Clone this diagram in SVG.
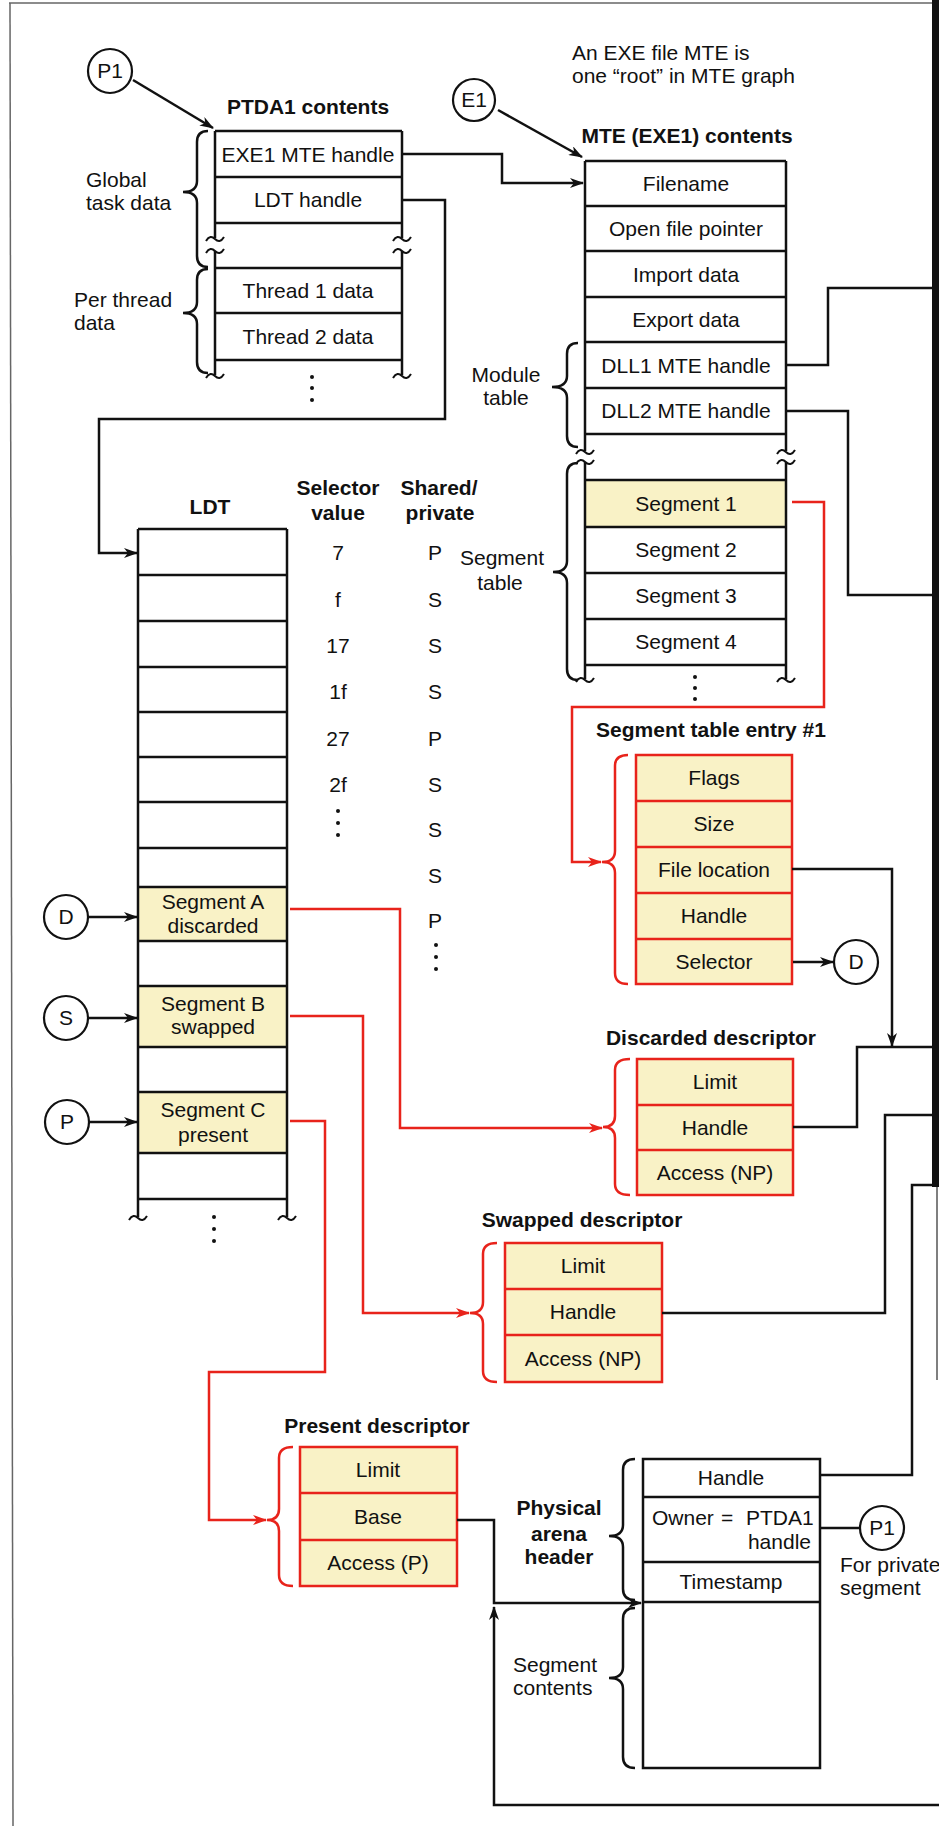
<svg xmlns="http://www.w3.org/2000/svg" xmlns:xlink="http://www.w3.org/1999/xlink" width="939" height="1826" viewBox="0 0 939 1826">
<style>
.t{font-family:"Liberation Sans",Arial,sans-serif;font-size:21px;fill:#111}
.b{font-weight:bold}
.c{text-anchor:middle}
.e{text-anchor:end}
.bx{fill:#fff;stroke:#111;stroke-width:2.5}
.yf{fill:#f9f2c6;stroke:none}
.rb{fill:#f9f2c6;stroke:#e8231b;stroke-width:2.5}
.ln{fill:none;stroke:#111;stroke-width:2.5}
.rl{fill:none;stroke:#e8231b;stroke-width:2.5}
.ci{fill:#fff;stroke:#111;stroke-width:2.2}
.dot{fill:#111}
</style>
<defs>
<marker id="ab" viewBox="0 0 14 10" refX="13" refY="5" markerWidth="14" markerHeight="10" markerUnits="userSpaceOnUse" orient="auto"><path d="M0,0 L14,5 L0,10 L4,5 z" fill="#111"/></marker>
<marker id="ar" viewBox="0 0 14 10" refX="13" refY="5" markerWidth="14" markerHeight="10" markerUnits="userSpaceOnUse" orient="auto"><path d="M0,0 L14,5 L0,10 L4,5 z" fill="#e8231b"/></marker>
<path id="tl" d="M-9,2 C-6,-3 -3,-3 0,0 C3,3 6,3 9,-2" fill="none" stroke="#111" stroke-width="2"/>
</defs>
<rect width="939" height="1826" fill="#fff"/>
<g id="frame">
<line x1="9" y1="3" x2="935" y2="3" stroke="#666" stroke-width="1.5"/>
<line x1="10" y1="3" x2="13" y2="1826" stroke="#666" stroke-width="1.5"/>
<line x1="935.5" y1="0" x2="935.5" y2="1187" stroke="#111" stroke-width="7"/>
<line x1="937" y1="1187" x2="937" y2="1380" stroke="#555" stroke-width="1.5"/>
</g>
<g id="note">
<text class="t" x="572" y="60">An EXE file MTE is</text>
<text class="t" x="572" y="83">one “root” in MTE graph</text>
</g>
<g id="ptda1">
<text class="t b c" x="308" y="114">PTDA1 contents</text>
<path class="ln" d="M215,131H402M215,177H402M215,223H402M215,268H402M215,313H402M215,360H402M215,131V238M402,131V238M215,251V375M402,251V375"/>
<use href="#tl" x="215" y="239"/><use href="#tl" x="215" y="251"/><use href="#tl" x="215" y="376"/>
<use href="#tl" x="402" y="239"/><use href="#tl" x="402" y="251"/><use href="#tl" x="402" y="376"/>
<text class="t c" x="308" y="162">EXE1 MTE handle</text>
<text class="t c" x="308" y="207">LDT handle</text>
<text class="t c" x="308" y="298">Thread 1 data</text>
<text class="t c" x="308" y="344">Thread 2 data</text>
<circle class="dot" cx="312" cy="377" r="2"/><circle class="dot" cx="312" cy="388" r="2"/><circle class="dot" cx="312" cy="400" r="2"/>
<path class="ln" d="M208,131 Q197,131 197,142 V181 Q197,192 183,192 Q197,192 197,203 V256 Q197,267 208,267"/>
<path class="ln" d="M208,269 Q197,269 197,280 V302 Q197,313 183,313 Q197,313 197,324 V362 Q197,373 208,373"/>
<text class="t" x="86" y="187">Global</text>
<text class="t" x="86" y="210">task data</text>
<text class="t" x="74" y="307">Per thread</text>
<text class="t" x="74" y="330">data</text>
</g>
<g id="mte">
<text class="t b c" x="687" y="143">MTE (EXE1) contents</text>
<rect class="yf" x="585" y="480" width="201" height="47"/>
<path class="ln" d="M585,161H786M585,206H786M585,251H786M585,297H786M585,342H786M585,388H786M585,434H786M585,480H786M585,527H786M585,573H786M585,619H786M585,665H786M585,161V451M786,161V451M585,462V679M786,462V679"/>
<use href="#tl" x="585" y="452"/><use href="#tl" x="585" y="462"/><use href="#tl" x="585" y="680"/>
<use href="#tl" x="786" y="452"/><use href="#tl" x="786" y="462"/><use href="#tl" x="786" y="680"/>
<text class="t c" x="686" y="191">Filename</text>
<text class="t c" x="686" y="236">Open file pointer</text>
<text class="t c" x="686" y="282">Import data</text>
<text class="t c" x="686" y="327">Export data</text>
<text class="t c" x="686" y="373">DLL1 MTE handle</text>
<text class="t c" x="686" y="418">DLL2 MTE handle</text>
<text class="t c" x="686" y="511">Segment 1</text>
<text class="t c" x="686" y="557">Segment 2</text>
<text class="t c" x="686" y="603">Segment 3</text>
<text class="t c" x="686" y="649">Segment 4</text>
<circle class="dot" cx="695" cy="677" r="2"/><circle class="dot" cx="695" cy="688" r="2"/><circle class="dot" cx="695" cy="699" r="2"/>
<path class="ln" d="M578,343 Q567,343 567,354 V376 Q567,387 552,387 Q567,387 567,398 V436 Q567,447 578,447"/>
<path class="ln" d="M578,463 Q567,463 567,474 V561 Q567,572 553,572 Q567,572 567,583 V669 Q567,680 578,680"/>
<text class="t c" x="506" y="382">Module</text>
<text class="t c" x="506" y="405">table</text>
<text class="t c" x="502" y="565">Segment</text>
<text class="t c" x="500" y="590">table</text>
</g>
<g id="ldt">
<text class="t b c" x="210" y="514">LDT</text>
<rect class="yf" x="138" y="887" width="149" height="54"/>
<rect class="yf" x="138" y="986" width="149" height="61"/>
<rect class="yf" x="138" y="1092" width="149" height="61"/>
<path class="ln" d="M138,529H287M138,575H287M138,621H287M138,667H287M138,712H287M138,757H287M138,802H287M138,848H287M138,887H287M138,941H287M138,986H287M138,1047H287M138,1092H287M138,1153H287M138,1199H287M138,529V1217M287,529V1217"/>
<use href="#tl" x="138" y="1218"/><use href="#tl" x="287" y="1218"/>
<text class="t c" x="213" y="909">Segment A</text>
<text class="t c" x="213" y="933">discarded</text>
<text class="t c" x="213" y="1011">Segment B</text>
<text class="t c" x="213" y="1034">swapped</text>
<text class="t c" x="213" y="1117">Segment C</text>
<text class="t c" x="213" y="1142">present</text>
<circle class="dot" cx="214" cy="1217" r="2"/><circle class="dot" cx="214" cy="1229" r="2"/><circle class="dot" cx="214" cy="1241" r="2"/>
</g>
<g id="selectors">
<text class="t b c" x="338" y="495">Selector</text>
<text class="t b c" x="338" y="520">value</text>
<text class="t b c" x="439" y="495">Shared/</text>
<text class="t b c" x="440" y="520">private</text>
<text class="t c" x="338" y="560">7</text>
<text class="t c" x="338" y="607">f</text>
<text class="t c" x="338" y="653">17</text>
<text class="t c" x="338" y="699">1f</text>
<text class="t c" x="338" y="746">27</text>
<text class="t c" x="338" y="792">2f</text>
<circle class="dot" cx="338" cy="811" r="2"/><circle class="dot" cx="338" cy="823" r="2"/><circle class="dot" cx="338" cy="835" r="2"/>
<text class="t c" x="435" y="560">P</text>
<text class="t c" x="435" y="607">S</text>
<text class="t c" x="435" y="653">S</text>
<text class="t c" x="435" y="699">S</text>
<text class="t c" x="435" y="746">P</text>
<text class="t c" x="435" y="792">S</text>
<text class="t c" x="435" y="837">S</text>
<text class="t c" x="435" y="883">S</text>
<text class="t c" x="435" y="928">P</text>
<circle class="dot" cx="436" cy="945" r="2"/><circle class="dot" cx="436" cy="957" r="2"/><circle class="dot" cx="436" cy="969" r="2"/>
</g>
<g id="segentry">
<text class="t b c" x="711" y="737">Segment table entry #1</text>
<path class="rl" d="M628,755 Q615,755 615,766 V851 Q615,862 602,862 Q615,862 615,873 V973 Q615,984 628,984"/>
<rect class="rb" x="636" y="755" width="156" height="229"/>
<path class="rl" d="M636,801H792M636,847H792M636,893H792M636,939H792"/>
<text class="t c" x="714" y="785">Flags</text>
<text class="t c" x="714" y="831">Size</text>
<text class="t c" x="714" y="877">File location</text>
<text class="t c" x="714" y="923">Handle</text>
<text class="t c" x="714" y="969">Selector</text>
</g>
<g id="discarded">
<text class="t b c" x="711" y="1045">Discarded descriptor</text>
<path class="rl" d="M630,1059 Q615,1059 615,1070 V1116 Q615,1127 603,1127 Q615,1127 615,1138 V1184 Q615,1195 630,1195"/>
<rect class="rb" x="637" y="1059" width="156" height="136"/>
<path class="rl" d="M637,1105H793M637,1150H793"/>
<text class="t c" x="715" y="1089">Limit</text>
<text class="t c" x="715" y="1135">Handle</text>
<text class="t c" x="715" y="1180">Access (NP)</text>
</g>
<g id="swapped">
<text class="t b c" x="582" y="1227">Swapped descriptor</text>
<path class="rl" d="M497,1243 Q483,1243 483,1254 V1302 Q483,1313 470,1313 Q483,1313 483,1324 V1371 Q483,1382 497,1382"/>
<rect class="rb" x="505" y="1243" width="157" height="139"/>
<path class="rl" d="M505,1289H662M505,1335H662"/>
<text class="t c" x="583" y="1273">Limit</text>
<text class="t c" x="583" y="1319">Handle</text>
<text class="t c" x="583" y="1366">Access (NP)</text>
</g>
<g id="present">
<text class="t b c" x="377" y="1433">Present descriptor</text>
<path class="rl" d="M293,1447 Q279,1447 279,1458 V1509 Q279,1520 267,1520 Q279,1520 279,1531 V1575 Q279,1586 293,1586"/>
<rect class="rb" x="300" y="1447" width="157" height="139"/>
<path class="rl" d="M300,1493H457M300,1540H457"/>
<text class="t c" x="378" y="1477">Limit</text>
<text class="t c" x="378" y="1524">Base</text>
<text class="t c" x="378" y="1570">Access (P)</text>
</g>
<g id="arena">
<rect class="bx" x="643" y="1459" width="177" height="309"/>
<path class="ln" d="M643,1497H820M643,1562H820M643,1602H820"/>
<text class="t c" x="731" y="1485">Handle</text>
<text class="t" y="1525"><tspan x="652">Owner</tspan><tspan x="721">=</tspan><tspan x="746">PTDA1</tspan></text>
<text class="t e" x="811" y="1549">handle</text>
<text class="t c" x="731" y="1589">Timestamp</text>
<path class="ln" d="M635,1459 Q623,1459 623,1470 V1525 Q623,1536 609,1536 Q623,1536 623,1547 V1589 Q623,1600 635,1600"/>
<path class="ln" d="M635,1608 Q623,1608 623,1619 V1667 Q623,1678 609,1678 Q623,1678 623,1689 V1757 Q623,1768 635,1768"/>
<text class="t b c" x="559" y="1515">Physical</text>
<text class="t b c" x="559" y="1541">arena</text>
<text class="t b c" x="559" y="1564">header</text>
<text class="t" x="513" y="1672">Segment</text>
<text class="t" x="513" y="1695">contents</text>
<text class="t" x="840" y="1572">For private</text>
<text class="t" x="840" y="1595">segment</text>
</g>
<g id="circles">
<circle class="ci" cx="110" cy="71" r="22"/><text class="t c" x="110" y="78">P1</text>
<circle class="ci" cx="474" cy="100" r="21"/><text class="t c" x="474" y="107">E1</text>
<circle class="ci" cx="66" cy="917" r="22"/><text class="t c" x="66" y="924">D</text>
<circle class="ci" cx="66" cy="1018" r="22"/><text class="t c" x="66" y="1025">S</text>
<circle class="ci" cx="67" cy="1122" r="22"/><text class="t c" x="67" y="1129">P</text>
<circle class="ci" cx="856" cy="962" r="22"/><text class="t c" x="856" y="969">D</text>
<circle class="ci" cx="882" cy="1528" r="22"/><text class="t c" x="882" y="1535">P1</text>
</g>
<g id="connectors">
<path class="ln" d="M133,80 L213,128" marker-end="url(#ab)"/>
<path class="ln" d="M498,110 L582,157" marker-end="url(#ab)"/>
<path class="ln" d="M402,154 H502 V183 H583" marker-end="url(#ab)"/>
<path class="ln" d="M402,200 H445 V419 H99 V553 H137" marker-end="url(#ab)"/>
<path class="ln" d="M786,365 H828 V288 H933"/>
<path class="ln" d="M786,411 H848 V595 H933"/>
<path class="ln" d="M792,869 H892 V1046" marker-end="url(#ab)"/>
<path class="ln" d="M793,962 H833" marker-end="url(#ab)"/>
<path class="ln" d="M793,1127 H857 V1047 H933"/>
<path class="ln" d="M662,1313 H885 V1115 H933"/>
<path class="ln" d="M820,1475 H912 V1185 H933"/>
<path class="ln" d="M820,1528 H860"/>
<path class="ln" d="M88,917 H137" marker-end="url(#ab)"/>
<path class="ln" d="M88,1018 H137" marker-end="url(#ab)"/>
<path class="ln" d="M89,1122 H137" marker-end="url(#ab)"/>
<path class="ln" d="M457,1520 H494 V1603 H641" marker-end="url(#ab)"/>
<path class="ln" d="M939,1805 H494 V1607" marker-end="url(#ab)"/>
<path class="rl" d="M792,502 H824 V707 H572 V862 H601" marker-end="url(#ar)"/>
<path class="rl" d="M290,909 H400 V1128 H602" marker-end="url(#ar)"/>
<path class="rl" d="M290,1016 H363 V1313 H469" marker-end="url(#ar)"/>
<path class="rl" d="M290,1121 H325 V1372 H209 V1520 H266" marker-end="url(#ar)"/>
</g>
</svg>
